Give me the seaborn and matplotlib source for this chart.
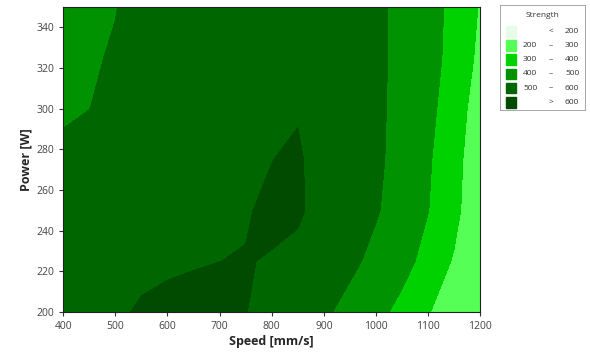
import numpy as np
import pandas as pd
import seaborn as sns
import matplotlib.pyplot as plt
from matplotlib.patches import Rectangle

# grid
speed = [400, 450, 500, 550, 600, 650, 700, 750, 800, 850, 900, 950, 1000, 1050, 1100, 1150, 1200]
power = [200, 225, 250, 275, 300, 325, 350]

strength_200 = [560, 575, 590, 607, 615, 618, 614, 601, 585, 560, 515, 470, 425, 375, 305, 250, 210]
strength_225 = [555, 567, 577, 585, 591, 596, 599.8, 602, 597, 573, 552, 520, 475, 430, 370, 290, 215]
strength_250 = [540, 552, 563, 573, 582, 589, 592, 596, 610, 615, 560, 535, 508, 458, 402, 330, 210]
strength_275 = [520, 535, 550, 565, 578, 588, 594, 598, 599, 610, 565, 542, 517, 467, 410, 340, 220]
strength_300 = [487, 499, 525, 550, 570, 583, 590, 595, 597, 594, 580, 553, 520, 470, 420, 360, 240]
strength_325 = [465, 490, 508, 540, 565, 580, 588, 592, 594, 590, 575, 550, 520, 475, 428, 375, 275]
strength_350 = [450, 478, 497, 530, 555, 570, 580, 585, 585, 580, 565, 545, 520, 475, 430, 380, 292]

levels = [0, 200, 300, 400, 500, 600, 1000]
level_colors = ["#e6fce6", "#55ff55", "#00d200", "#009200", "#006700", "#004b00"]
low_labels = ["", "200", "300", "400", "500", ""]
mid_labels = ["<", "–", "–", "–", "–", ">"]
high_labels = ["200", "300", "400", "500", "600", "600"]

df = pd.DataFrame([strength_200, strength_225, strength_250, strength_275,
                   strength_300, strength_325, strength_350],
                  index=power, columns=speed)

sns.set_theme(style="ticks")
plt.rcParams['font.family'] = ['Open Sans', 'DejaVu Sans']

fig = plt.figure(figsize=(5.9, 3.6), dpi=100)
ax = fig.add_axes([0.107, 0.133, 0.707, 0.848])

ax.contourf(df.columns.values, df.index.values, df.values, levels=levels, colors=level_colors)

ax.set_xlim(400, 1200)
ax.set_ylim(200, 350)
ax.set_xticks(range(400, 1201, 100))
ax.set_yticks(range(200, 341, 20))
ax.tick_params(labelsize=7.5, length=3, width=0.8, colors="#333333", labelcolor="#444444")
for s in ax.spines.values():
    s.set_linewidth(0.8)
    s.set_color("#222222")
ax.set_xlabel("Speed [mm/s]", fontsize=9, fontweight="bold", labelpad=2)
ax.set_ylabel("Power [W]", fontsize=9, fontweight="bold", labelpad=3)

# legend box, minitab style
lax = fig.add_axes([0.847, 0.694, 0.145, 0.292])
lax.set_xlim(0, 1)
lax.set_ylim(0, 1)
lax.set_xticks([])
lax.set_yticks([])
for s in lax.spines.values():
    s.set_linewidth(0.6)
    s.set_color("#999999")
lax.text(0.5, 0.9, "Strength", ha="center", va="center", fontsize=6, color="#333333")
for i, c in enumerate(level_colors):
    y = 0.75 - i * 0.135
    lax.add_patch(Rectangle((0.07, y - 0.05), 0.12, 0.1, color=c))
    lax.text(0.44, y, low_labels[i], ha="right", va="center", fontsize=6, color="#333333")
    lax.text(0.6, y, mid_labels[i], ha="center", va="center", fontsize=6, color="#333333")
    lax.text(0.93, y, high_labels[i], ha="right", va="center", fontsize=6, color="#333333")

plt.savefig("out.png", dpi=100)
